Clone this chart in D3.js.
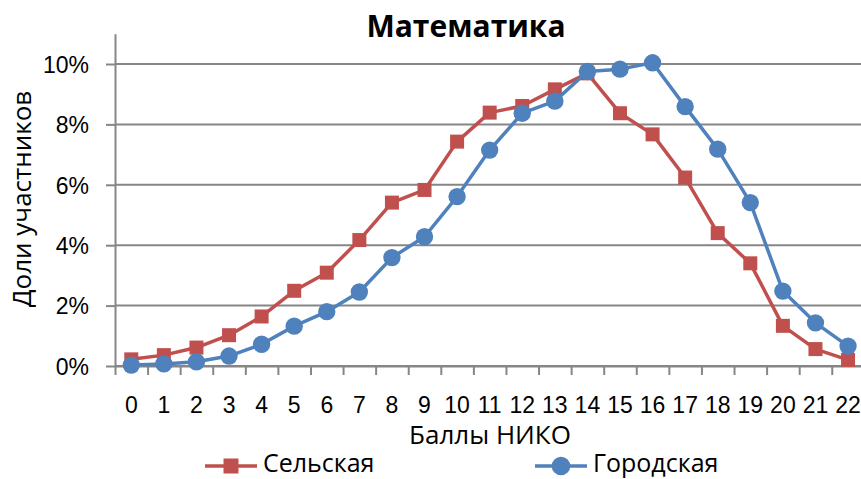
<!DOCTYPE html>
<html>
<head>
<meta charset="utf-8">
<script src="https://cdn.jsdelivr.net/npm/d3@7"></script>
<style>
  body { margin: 0; background: #fff; }
  svg { display: block; font-family: "Open Sans", sans-serif; }
  .axis text { font-size: 23px; fill: #000; }
  .axis path, .axis line { stroke: #868686; stroke-width: 2; }
</style>
</head>
<body>
<div id="chart"></div>
<script>
'use strict';

var categories = ["0","1","2","3","4","5","6","7","8","9","10","11","12","13","14","15","16","17","18","19","20","21","22"];
var ruralValues = [0.0022, 0.0036, 0.0061, 0.0102, 0.0164, 0.0249, 0.0309, 0.0417, 0.0541, 0.0583, 0.0743, 0.0839,
                   0.0861, 0.0916, 0.0969, 0.0837, 0.0767, 0.0624, 0.0440, 0.0340, 0.0133, 0.0056, 0.0020];
var urbanValues = [0.0003, 0.0007, 0.0014, 0.0033, 0.0072, 0.0132, 0.0180, 0.0245, 0.0359, 0.0428, 0.0561, 0.0715,
                   0.0837, 0.0877, 0.0975, 0.0983, 0.1004, 0.0859, 0.0718, 0.0541, 0.0248, 0.0143, 0.0066];
var yTicks = [0, 0.02, 0.04, 0.06, 0.08, 0.10];
var series = [
    {name: "Сельская", values: ruralValues, color: "#C0504D", marker: "square"},
    {name: "Городская", values: urbanValues, color: "#4F81BD", marker: "circle"}
];

var width = 861, height = 479;
var plotLeft = 115, plotBottom = 366, catWidth = 32.58;

var svg = d3.select("#chart").append("svg")
    .attr("width", width)
    .attr("height", height);

var x = d3.scaleBand()
    .domain(categories)
    .range([plotLeft, plotLeft + catWidth * categories.length]);

// boundaries between categories, for the tick marks
var xEdge = d3.scaleLinear()
    .domain([0, categories.length])
    .range(x.range());

var y = d3.scaleLinear()
    .domain([0, 0.11])
    .range([plotBottom, plotBottom - 3020 * 0.11]);

// gridlines
svg.append("g")
    .selectAll("line")
    .data(yTicks)
    .enter().append("line")
    .attr("x1", plotLeft)
    .attr("x2", width)
    .attr("y1", function(d) { return y(d); })
    .attr("y2", function(d) { return y(d); })
    .attr("stroke", "#868686")
    .attr("stroke-width", 2);

// y axis
var yAxis = svg.append("g")
    .attr("class", "axis")
    .attr("transform", "translate(" + plotLeft + ",0)")
    .call(d3.axisLeft(y).tickValues(yTicks).tickFormat(d3.format(".0%")).tickSize(9).tickSizeOuter(0).tickPadding(17));
yAxis.selectAll("text").attr("dy", "0.36em");

// x axis tick marks
svg.append("g")
    .attr("class", "axis")
    .attr("transform", "translate(0," + plotBottom + ")")
    .call(d3.axisBottom(xEdge).tickValues(d3.range(categories.length + 1)).tickFormat("").tickSize(9).tickSizeOuter(0));

// x axis labels
var xAxis = svg.append("g")
    .attr("class", "axis")
    .attr("transform", "translate(0," + plotBottom + ")")
    .call(d3.axisBottom(x).tickSize(0));
xAxis.select(".domain").remove();
xAxis.selectAll("text").attr("y", 47).attr("dy", 0);

var line = d3.line()
    .x(function(d, i) { return x(categories[i]) + x.bandwidth() / 2; })
    .y(function(d) { return y(d); });

function drawMarker(g, s, cx, cy, size) {
    if (s.marker === "square") {
        g.append("rect")
            .attr("x", cx - size / 2)
            .attr("y", cy - size / 2)
            .attr("width", size)
            .attr("height", size)
            .attr("fill", s.color);
    } else {
        g.append("circle")
            .attr("cx", cx)
            .attr("cy", cy)
            .attr("r", size * 0.62)
            .attr("fill", s.color);
    }
}

series.forEach(function(s) {
    var g = svg.append("g");
    g.append("path")
        .datum(s.values)
        .attr("d", line)
        .attr("fill", "none")
        .attr("stroke", s.color)
        .attr("stroke-width", 3.5)
        .attr("stroke-linejoin", "round");
    s.values.forEach(function(v, i) {
        drawMarker(g, s, x(categories[i]) + x.bandwidth() / 2, y(v), 14);
    });
});

// titles
svg.append("text")
    .attr("x", 466)
    .attr("y", 37)
    .attr("text-anchor", "middle")
    .style("font-size", "30px")
    .style("font-weight", "bold")
    .text("Математика");

svg.append("text")
    .attr("transform", "translate(31,199) rotate(-90)")
    .attr("text-anchor", "middle")
    .style("font-size", "26px")
    .text("Доли участников");

svg.append("text")
    .attr("x", 490)
    .attr("y", 444)
    .attr("text-anchor", "middle")
    .style("font-size", "26px")
    .text("Баллы НИКО");

// legend
var legendX = [205, 535];
series.forEach(function(s, i) {
    var g = svg.append("g")
        .attr("transform", "translate(" + legendX[i] + ",466)");
    g.append("line")
        .attr("x1", 0)
        .attr("x2", 52)
        .attr("stroke", s.color)
        .attr("stroke-width", 3.5);
    drawMarker(g, s, 26, 0, 15);
    g.append("text")
        .attr("x", 58)
        .attr("y", 6)
        .style("font-size", "25px")
        .text(s.name);
});
</script>
</body>
</html>
